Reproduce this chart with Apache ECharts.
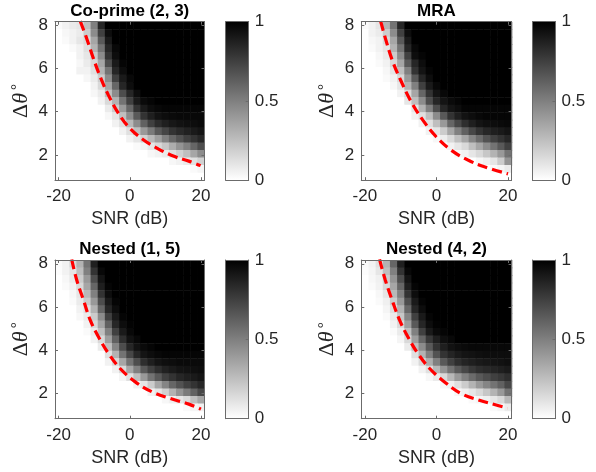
<!DOCTYPE html>
<html>
<head>
<meta charset="utf-8">
<script src="https://cdn.jsdelivr.net/npm/echarts@6/dist/echarts.min.js"></script>
<style>
  html, body { margin: 0; padding: 0; background: #fff; }
  #chart { width: 596px; height: 472px; }
</style>
</head>
<body>
<div id="chart"></div>
<script>
// ── Data ───────────────────────────────────────────────
const SNR    = [-20, -18, -16, -14, -12, -10, -8, -6, -4, -2, 0, 2, 4, 6, 8, 10, 12, 14, 16, 18, 20];
// rows listed top (8°) to bottom (1°)
const DTHETA = [8, 7.65, 7.3, 6.95, 6.6, 6.25, 5.9, 5.55, 5.2, 4.85, 4.5, 4.15, 3.8, 3.45, 3.1, 2.75, 2.4, 2.05, 1.7, 1.35, 1];

const X_TICKS    = [-20, 0, 20];
const Y_TICKS    = [2, 4, 6, 8];
const CBAR_TICKS = [0, 0.5, 1];
const TITLES     = ['Co-prime (2, 3)', 'MRA', 'Nested (1, 5)', 'Nested (4, 2)'];

const coprime = [
  [0.02,0.05,0.08,0.1,0.25,0.5,0.85,1,1,1,1,1,1,1,1,1,1,1,1,1,1],
  [0,0.03,0.05,0.08,0.2,0.45,0.75,0.95,1,1,1,1,1,1,1,1,1,1,1,1,1],
  [0,0.02,0.05,0.1,0.15,0.35,0.65,0.9,1,1,1,1,1,1,1,1,1,1,1,1,1],
  [0,0,0.02,0.05,0.12,0.3,0.55,0.85,0.97,1,1,1,1,1,1,1,1,1,1,1,1],
  [0,0,0,0.05,0.1,0.2,0.45,0.8,0.95,1,1,1,1,1,1,1,1,1,1,1,1],
  [0,0,0,0.03,0.08,0.15,0.35,0.7,0.9,0.98,1,1,1,1,1,1,1,1,1,1,1],
  [0,0,0,0.05,0.05,0.12,0.3,0.55,0.85,0.95,1,1,1,1,1,1,1,1,1,1,1],
  [0,0,0,0,0.03,0.08,0.2,0.45,0.75,0.9,0.97,1,1,1,1,1,1,1,1,1,1],
  [0,0,0,0,0,0.05,0.15,0.35,0.6,0.85,0.95,1,1,1,1,1,1,1,1,1,1],
  [0,0,0,0,0,0.03,0.08,0.25,0.45,0.7,0.85,0.95,1,1,1,1,1,1,1,1,1],
  [0,0,0,0,0,0,0.05,0.15,0.3,0.55,0.75,0.9,0.96,0.98,1,1,1,1,1,1,1],
  [0,0,0,0,0,0,0,0.08,0.2,0.4,0.6,0.8,0.9,0.95,0.97,0.98,0.98,0.98,0.98,0.98,0.98],
  [0,0,0,0,0,0,0,0.03,0.1,0.25,0.45,0.65,0.8,0.88,0.93,0.95,0.96,0.97,0.97,0.97,0.97],
  [0,0,0,0,0,0,0,0,0.05,0.12,0.28,0.45,0.62,0.75,0.83,0.88,0.91,0.93,0.94,0.95,0.96],
  [0,0,0,0,0,0,0,0,0,0.05,0.12,0.25,0.4,0.52,0.65,0.73,0.8,0.84,0.87,0.9,0.92],
  [0,0,0,0,0,0,0,0,0,0,0.05,0.1,0.18,0.28,0.38,0.5,0.6,0.68,0.75,0.8,0.85],
  [0,0,0,0,0,0,0,0,0,0,0,0.02,0.05,0.1,0.15,0.22,0.32,0.42,0.5,0.6,0.7],
  [0,0,0,0,0,0,0,0,0,0,0,0,0,0.03,0.05,0.08,0.12,0.18,0.25,0.35,0.45],
  [0,0,0,0,0,0,0,0,0,0,0,0,0,0,0,0,0.03,0.05,0.08,0.12,0.18],
  [0,0,0,0,0,0,0,0,0,0,0,0,0,0,0,0,0,0,0,0.02,0.04],
  [0,0,0,0,0,0,0,0,0,0,0,0,0,0,0,0,0,0,0,0,0],
];

const mra = [
  [0.02,0.05,0.1,0.3,0.55,0.85,1,1,1,1,1,1,1,1,1,1,1,1,1,1,1],
  [0,0.05,0.08,0.2,0.45,0.75,0.95,1,1,1,1,1,1,1,1,1,1,1,1,1,1],
  [0,0.03,0.05,0.15,0.35,0.65,0.9,1,1,1,1,1,1,1,1,1,1,1,1,1,1],
  [0,0.02,0.05,0.1,0.3,0.55,0.85,0.97,1,1,1,1,1,1,1,1,1,1,1,1,1],
  [0,0,0.03,0.08,0.2,0.45,0.75,0.95,0.98,1,1,1,1,1,1,1,1,1,1,1,1],
  [0,0,0.02,0.05,0.15,0.35,0.65,0.85,0.95,1,1,1,1,1,1,1,1,1,1,1,1],
  [0,0,0,0.03,0.1,0.25,0.5,0.8,0.92,0.98,1,1,1,1,1,1,1,1,1,1,1],
  [0,0,0,0.02,0.05,0.15,0.4,0.65,0.85,0.95,1,1,1,1,1,1,1,1,1,1,1],
  [0,0,0,0,0.03,0.1,0.3,0.5,0.75,0.9,0.97,1,1,1,1,1,1,1,1,1,1],
  [0,0,0,0,0,0.05,0.15,0.35,0.6,0.8,0.92,0.97,1,1,1,1,1,1,1,1,1],
  [0,0,0,0,0,0,0.1,0.25,0.45,0.7,0.85,0.92,0.96,0.98,1,1,1,1,1,1,1],
  [0,0,0,0,0,0,0,0.1,0.3,0.5,0.7,0.85,0.92,0.95,0.98,0.98,0.98,0.98,0.98,0.98,0.98],
  [0,0,0,0,0,0,0,0.05,0.12,0.25,0.45,0.65,0.8,0.88,0.93,0.95,0.97,0.98,0.98,0.98,0.98],
  [0,0,0,0,0,0,0,0,0.05,0.12,0.25,0.4,0.6,0.72,0.82,0.88,0.92,0.94,0.95,0.96,0.97],
  [0,0,0,0,0,0,0,0,0,0.05,0.1,0.2,0.35,0.5,0.62,0.72,0.8,0.85,0.88,0.9,0.92],
  [0,0,0,0,0,0,0,0,0,0,0.03,0.07,0.15,0.25,0.35,0.48,0.58,0.68,0.75,0.8,0.85],
  [0,0,0,0,0,0,0,0,0,0,0,0,0.05,0.1,0.15,0.25,0.35,0.45,0.55,0.65,0.75],
  [0,0,0,0,0,0,0,0,0,0,0,0,0,0.03,0.05,0.1,0.15,0.22,0.3,0.4,0.55],
  [0,0,0,0,0,0,0,0,0,0,0,0,0,0,0,0,0.03,0.06,0.1,0.2,0.42],
  [0,0,0,0,0,0,0,0,0,0,0,0,0,0,0,0,0,0,0.02,0.04,0.08],
  [0,0,0,0,0,0,0,0,0,0,0,0,0,0,0,0,0,0,0,0,0],
];

const nested15 = [
  [0.02,0.05,0.15,0.3,0.55,0.88,1,1,1,1,1,1,1,1,1,1,1,1,1,1,1],
  [0.01,0.05,0.1,0.25,0.5,0.8,0.97,1,1,1,1,1,1,1,1,1,1,1,1,1,1],
  [0,0.03,0.08,0.2,0.4,0.7,0.92,1,1,1,1,1,1,1,1,1,1,1,1,1,1],
  [0,0.02,0.05,0.15,0.35,0.6,0.88,0.98,1,1,1,1,1,1,1,1,1,1,1,1,1],
  [0,0,0.03,0.1,0.28,0.5,0.8,0.95,1,1,1,1,1,1,1,1,1,1,1,1,1],
  [0,0,0.02,0.08,0.2,0.4,0.7,0.9,0.98,1,1,1,1,1,1,1,1,1,1,1,1],
  [0,0,0,0.05,0.12,0.3,0.6,0.85,0.95,1,1,1,1,1,1,1,1,1,1,1,1],
  [0,0,0,0.03,0.08,0.2,0.45,0.75,0.9,0.98,1,1,1,1,1,1,1,1,1,1,1],
  [0,0,0,0,0.05,0.15,0.35,0.62,0.85,0.95,0.99,1,1,1,1,1,1,1,1,1,1],
  [0,0,0,0,0.02,0.08,0.25,0.5,0.75,0.9,0.97,1,1,1,1,1,1,1,1,1,1],
  [0,0,0,0,0,0.05,0.15,0.38,0.62,0.82,0.93,0.97,1,1,1,1,1,1,1,1,1],
  [0,0,0,0,0,0,0.08,0.25,0.48,0.7,0.85,0.93,0.96,0.98,1,1,1,1,1,1,1],
  [0,0,0,0,0,0,0,0.12,0.3,0.55,0.72,0.85,0.92,0.95,0.97,0.98,0.98,0.98,0.98,0.98,0.98],
  [0,0,0,0,0,0,0,0.05,0.15,0.35,0.55,0.7,0.82,0.88,0.92,0.94,0.95,0.96,0.96,0.96,0.96],
  [0,0,0,0,0,0,0,0,0.05,0.15,0.35,0.5,0.65,0.75,0.82,0.87,0.9,0.92,0.93,0.94,0.95],
  [0,0,0,0,0,0,0,0,0,0.04,0.12,0.25,0.4,0.55,0.65,0.75,0.8,0.85,0.88,0.9,0.92],
  [0,0,0,0,0,0,0,0,0,0,0,0.05,0.1,0.2,0.35,0.48,0.6,0.68,0.75,0.8,0.85],
  [0,0,0,0,0,0,0,0,0,0,0,0,0,0.05,0.1,0.18,0.3,0.42,0.52,0.62,0.72],
  [0,0,0,0,0,0,0,0,0,0,0,0,0,0,0,0.03,0.06,0.1,0.15,0.25,0.35],
  [0,0,0,0,0,0,0,0,0,0,0,0,0,0,0,0,0,0,0.02,0.04,0.06],
  [0,0,0,0,0,0,0,0,0,0,0,0,0,0,0,0,0,0,0,0,0],
];

const nested42 = [
  [0.02,0.05,0.12,0.3,0.6,0.88,1,1,1,1,1,1,1,1,1,1,1,1,1,1,1],
  [0.01,0.04,0.1,0.25,0.5,0.8,0.97,1,1,1,1,1,1,1,1,1,1,1,1,1,1],
  [0,0.03,0.06,0.2,0.42,0.7,0.92,1,1,1,1,1,1,1,1,1,1,1,1,1,1],
  [0,0.02,0.05,0.15,0.35,0.6,0.88,0.98,1,1,1,1,1,1,1,1,1,1,1,1,1],
  [0,0,0.03,0.1,0.28,0.5,0.8,0.95,1,1,1,1,1,1,1,1,1,1,1,1,1],
  [0,0,0.02,0.06,0.2,0.4,0.7,0.9,0.98,1,1,1,1,1,1,1,1,1,1,1,1],
  [0,0,0,0.04,0.12,0.3,0.6,0.85,0.95,1,1,1,1,1,1,1,1,1,1,1,1],
  [0,0,0,0.02,0.08,0.22,0.48,0.75,0.9,0.98,1,1,1,1,1,1,1,1,1,1,1],
  [0,0,0,0,0.05,0.15,0.38,0.65,0.85,0.95,0.99,1,1,1,1,1,1,1,1,1,1],
  [0,0,0,0,0.02,0.08,0.25,0.5,0.75,0.9,0.96,0.98,1,1,1,1,1,1,1,1,1],
  [0,0,0,0,0,0.04,0.15,0.38,0.6,0.78,0.88,0.94,0.97,1,1,1,1,1,1,1,1],
  [0,0,0,0,0,0,0.08,0.25,0.45,0.65,0.8,0.88,0.93,0.95,0.96,0.97,0.97,0.97,0.97,0.97,0.97],
  [0,0,0,0,0,0,0,0.12,0.3,0.5,0.68,0.8,0.86,0.9,0.92,0.93,0.94,0.95,0.95,0.95,0.95],
  [0,0,0,0,0,0,0,0.05,0.15,0.32,0.5,0.65,0.75,0.82,0.86,0.88,0.9,0.91,0.92,0.93,0.94],
  [0,0,0,0,0,0,0,0,0.05,0.12,0.28,0.42,0.55,0.65,0.72,0.78,0.82,0.84,0.86,0.88,0.9],
  [0,0,0,0,0,0,0,0,0,0.03,0.08,0.15,0.28,0.4,0.5,0.58,0.65,0.7,0.75,0.78,0.82],
  [0,0,0,0,0,0,0,0,0,0,0,0.03,0.06,0.12,0.2,0.3,0.4,0.48,0.55,0.62,0.72],
  [0,0,0,0,0,0,0,0,0,0,0,0,0,0.03,0.06,0.1,0.15,0.22,0.3,0.4,0.55],
  [0,0,0,0,0,0,0,0,0,0,0,0,0,0,0,0.02,0.04,0.06,0.1,0.15,0.28],
  [0,0,0,0,0,0,0,0,0,0,0,0,0,0,0,0,0,0,0.02,0.04,0.08],
  [0,0,0,0,0,0,0,0,0,0,0,0,0,0,0,0,0,0,0,0,0],
];

// red dashed bound, [SNR, Δθ]
const coprimeCurve  = [[-13.9, 8.2], [-12.1, 7.4], [-10.2, 6.47], [-8.3, 5.62], [-6.0, 4.77], [-3.15, 3.92], [0.1, 3.22], [3.9, 2.69], [8.1, 2.27], [12.8, 1.91], [16.6, 1.71], [19.9, 1.5]];
const mraCurve      = [[-15.6, 8.2], [-14.0, 7.25], [-12.2, 6.32], [-9.8, 5.39], [-7.05, 4.46], [-3.8, 3.61], [-0.07, 2.84], [4.1, 2.22], [8.8, 1.76], [13.4, 1.45], [20.0, 1.12]];
const nested15Curve = [[-16.3, 8.2], [-14.9, 7.25], [-13.0, 6.32], [-11.1, 5.39], [-8.8, 4.62], [-6.0, 3.85], [-2.7, 3.15], [1.55, 2.53], [6.25, 2.07], [11.4, 1.76], [16.6, 1.5], [20.0, 1.27]];
const nested42Curve = [[-15.9, 8.2], [-14.3, 7.25], [-12.4, 6.32], [-10.3, 5.39], [-8.0, 4.62], [-5.2, 3.85], [-1.9, 3.15], [2.25, 2.53], [6.9, 1.99], [12.0, 1.68], [16.2, 1.48], [19.9, 1.31]];

const MAPS   = [coprime, mra, nested15, nested42];
const CURVES = [coprimeCurve, mraCurve, nested15Curve, nested42Curve];

// ── Layout / style ─────────────────────────────────────
const FONT = 'Liberation Sans';
const TXT  = '#262626';
const AX   = '#6b6b6b';
const LAYOUT = [
  { left: 55,    top: 21.7, width: 149.5, height: 158.5, cb: 225.7 },
  { left: 361.3, top: 21.7, width: 150.3, height: 158.5, cb: 532.5 },
  { left: 55,    top: 260,  width: 149.5, height: 158.7, cb: 225.7 },
  { left: 361.3, top: 260,  width: 150.3, height: 158.7, cb: 532.5 },
];
const CB_WIDTH = 23;

const X_STEP = SNR[1] - SNR[0];
const Y_STEP = DTHETA[0] - DTHETA[1];
const X_MIN = SNR[0] - X_STEP / 2, X_MAX = SNR[SNR.length - 1] + X_STEP / 2;
const Y_MIN = DTHETA[DTHETA.length - 1] - Y_STEP / 2, Y_MAX = DTHETA[0] + Y_STEP / 2;

const chart = echarts.init(document.getElementById('chart'), null, { renderer: 'canvas' });

function renderCell(params, api) {
  const x = api.value(0), y = api.value(1);
  const p0 = api.coord([x - X_STEP / 2, y + Y_STEP / 2]);
  const p1 = api.coord([x + X_STEP / 2, y - Y_STEP / 2]);
  return {
    type: 'rect',
    shape: { x: p0[0], y: p0[1], width: p1[0] - p0[0] + 0.6, height: p1[1] - p0[1] + 0.6 },
    style: { fill: api.visual('color') },
  };
}

const lineAxis = (extra) => Object.assign({
  z: 5,
  splitLine: { show: false },
  axisLine:  { show: true, onZero: false, lineStyle: { color: AX, width: 1 } },
  axisTick:  { show: false },
  axisLabel: { show: false },
}, extra);

const grids = [], xAxes = [], yAxes = [], cellSeries = [], otherSeries = [], titles = [];

LAYOUT.forEach((L, i) => {
  // heatmap grid
  const g = grids.length;
  grids.push({ left: L.left, top: L.top, width: L.width, height: L.height, outerBoundsMode: 'none' });
  const xb = xAxes.length;
  xAxes.push(lineAxis({
    gridIndex: g, type: 'value', min: X_MIN, max: X_MAX, position: 'bottom',
    axisTick:  { show: true, inside: true, length: 3, customValues: X_TICKS, lineStyle: { color: AX } },
    axisLabel: { show: true, customValues: X_TICKS, margin: 8, fontSize: 17, color: TXT, fontFamily: FONT },
    name: 'SNR (dB)', nameLocation: 'middle', nameGap: 30,
    nameTextStyle: { fontSize: 18, color: TXT, fontFamily: FONT },
  }));
  xAxes.push(lineAxis({
    gridIndex: g, type: 'value', min: X_MIN, max: X_MAX, position: 'top',
    axisTick: { show: true, inside: true, length: 3, customValues: X_TICKS, lineStyle: { color: AX } },
  }));
  const yl = yAxes.length;
  yAxes.push(lineAxis({
    gridIndex: g, type: 'value', min: Y_MIN, max: Y_MAX, position: 'left',
    axisTick:  { show: true, inside: true, length: 3, customValues: Y_TICKS, lineStyle: { color: AX } },
    axisLabel: { show: true, customValues: Y_TICKS, margin: 7, fontSize: 17, color: TXT, fontFamily: FONT },
    name: '{d|Δ}{t|θ}{s|°}', nameLocation: 'middle', nameGap: 23, nameRotate: 90,
    nameTextStyle: {
      color: TXT,
      rich: {
        d: { fontFamily: 'Liberation Serif', fontSize: 22, color: TXT },
        t: { fontFamily: 'Liberation Serif', fontStyle: 'italic', fontSize: 22, color: TXT },
        s: { fontFamily: 'Liberation Serif', fontSize: 15, color: TXT, verticalAlign: 'top', padding: [0, 0, 0, 3] },
      },
    },
  }));
  yAxes.push(lineAxis({
    gridIndex: g, type: 'value', min: Y_MIN, max: Y_MAX, position: 'right',
    axisTick: { show: true, inside: true, length: 3, customValues: Y_TICKS, lineStyle: { color: AX } },
  }));

  const data = [];
  MAPS[i].forEach((row, r) => row.forEach((v, c) => data.push([SNR[c], DTHETA[r], v])));
  cellSeries.push({
    type: 'custom', xAxisIndex: xb, yAxisIndex: yl, data,
    encode: { x: 0, y: 1 }, renderItem: renderCell, clip: true, silent: true, z: 1,
  });
  otherSeries.push({
    type: 'line', xAxisIndex: xb, yAxisIndex: yl, data: CURVES[i],
    smooth: 0.4, symbol: 'none', clip: true, silent: true, z: 3,
    lineStyle: { color: '#ff0000', width: 3.2, type: [10, 5] },
  });

  titles.push({
    text: TITLES[i], left: L.left + L.width / 2, top: L.top - 19, textAlign: 'center', padding: 0,
    textStyle: { fontFamily: FONT, fontWeight: 'bold', fontSize: 17, color: '#000' },
  });

  // colorbar grid
  const cg = grids.length;
  grids.push({ left: L.cb, top: L.top, width: CB_WIDTH, height: L.height, outerBoundsMode: 'none' });
  const cx = xAxes.length;
  xAxes.push(lineAxis({ gridIndex: cg, type: 'category', data: [''], position: 'bottom' }));
  xAxes.push(lineAxis({ gridIndex: cg, type: 'category', data: [''], position: 'top' }));
  const cy = yAxes.length;
  yAxes.push(lineAxis({
    gridIndex: cg, type: 'value', min: CBAR_TICKS[0], max: CBAR_TICKS[CBAR_TICKS.length - 1], position: 'right',
    axisTick:  { show: true, inside: true, length: 3, customValues: CBAR_TICKS, lineStyle: { color: AX } },
    axisLabel: { show: true, customValues: CBAR_TICKS, margin: 6, fontSize: 17, color: TXT, fontFamily: FONT },
  }));
  yAxes.push(lineAxis({
    gridIndex: cg, type: 'value', min: CBAR_TICKS[0], max: CBAR_TICKS[CBAR_TICKS.length - 1], position: 'left',
  }));
  otherSeries.push({
    type: 'bar', xAxisIndex: cx, yAxisIndex: cy, data: [CBAR_TICKS[CBAR_TICKS.length - 1]],
    barWidth: '100%', silent: true, z: 1,
    itemStyle: {
      color: new echarts.graphic.LinearGradient(0, 0, 0, 1, [
        { offset: 0, color: '#000000' }, { offset: 1, color: '#ffffff' },
      ]),
    },
  });
});

chart.setOption({
  backgroundColor: '#ffffff',
  animation: false,
  title: titles,
  grid: grids,
  xAxis: xAxes,
  yAxis: yAxes,
  visualMap: {
    show: false, type: 'continuous', min: 0, max: 1, dimension: 2,
    seriesIndex: cellSeries.map((_, k) => k),
    inRange: { color: ['#ffffff', '#000000'] },
  },
  series: cellSeries.concat(otherSeries),
});
</script>
</body>
</html>
